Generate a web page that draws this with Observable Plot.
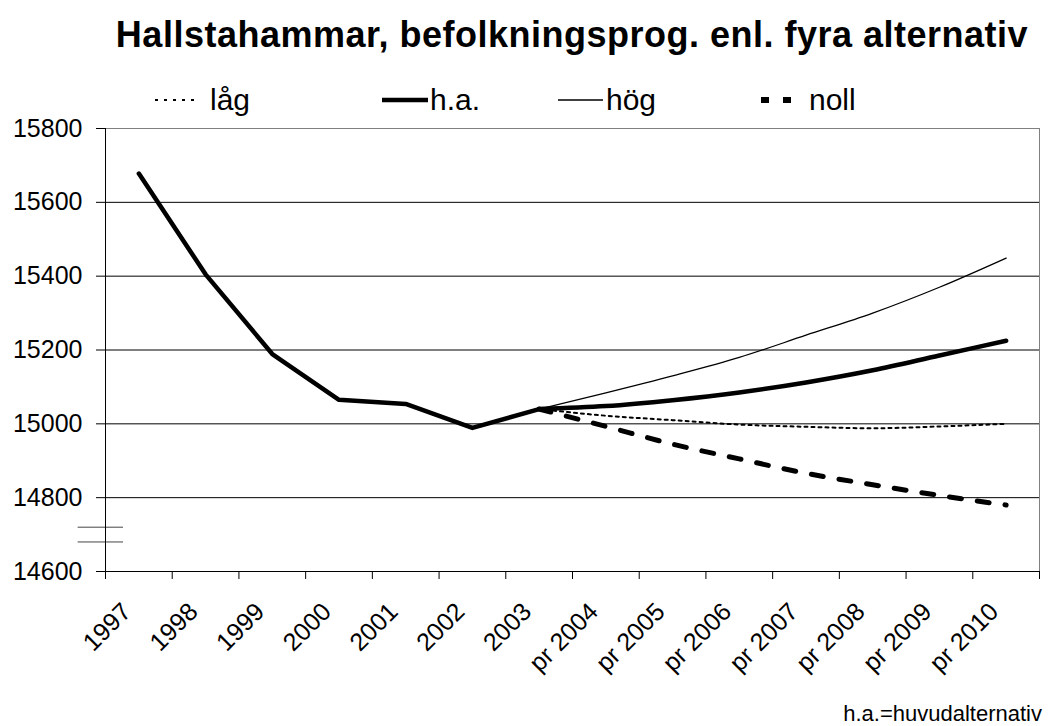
<!DOCTYPE html>
<html>
<head>
<meta charset="utf-8">
<script src="https://cdn.jsdelivr.net/npm/d3@7"></script>
<script src="https://cdn.jsdelivr.net/npm/@observablehq/plot@0.6"></script>
<style>
  body { margin: 0; background: #fff; font-family: "Liberation Sans", Arial, sans-serif; }
  #wrap { position: relative; width: 1048px; height: 726px; overflow: hidden; }
  #title { position: absolute; left: 0; width: 1144px; top: 17px; line-height: 1; text-align: center; font-weight: bold; font-size: 36px; letter-spacing: 0.5px; color: #000; white-space: nowrap; }
  .leg { position: absolute; top: 85px; height: 30px; line-height: 1; font-size: 30px; display: flex; align-items: center; white-space: nowrap; }
  #note { position: absolute; right: 6px; top: 703px; line-height: 1; font-size: 22px; white-space: nowrap; }
  #chart { position: absolute; left: 0; top: 0; }
</style>
</head>
<body>
<div id="wrap">
  <div id="chart"></div>
  <div id="title">Hallstahammar, befolkningsprog. enl. fyra alternativ</div>
  <div id="legend"></div>
  <div id="note">h.a.=huvudalternativ</div>
</div>
<script>
const categories = ["1997","1998","1999","2000","2001","2002","2003","pr 2004","pr 2005","pr 2006","pr 2007","pr 2008","pr 2009","pr 2010"];
const history = [15678, 15405, 15189, 15065, 15054, 14989, 15040];
const lag  = [15022, 15010, 14998, 14992, 14988, 14993, 15000];
const ha   = [15048, 15064, 15085, 15112, 15145, 15185, 15225];
const hog  = [15084, 15130, 15180, 15240, 15300, 15370, 15449];
const noll = [14993, 14945, 14905, 14866, 14835, 14806, 14780];
const yTicks = [14600, 14800, 15000, 15200, 15400, 15600, 15800];
const gridLines = [15600, 15400, 15200, 15000, 14800];
const breakMarks = [14720, 14680];

const seriesStyles = [
  {name: "låg",  proj: lag,  width: 2,   dash: "3,4",   legDash: "3,6",   legW: 42, gap: 13},
  {name: "h.a.", proj: ha,   width: 4.5, dash: null,    legDash: null,    legW: 46, gap: 2},
  {name: "hög",  proj: hog,  width: 1.3, dash: null,    legDash: null,    legW: 45, gap: 3},
  {name: "noll", proj: noll, width: 5,   dash: "12,16", legDash: "8,14",  legW: 46, gap: 6}
];

function rows(proj, full) {
  const vals = full ? history.concat(proj) : [history[history.length - 1]].concat(proj);
  const start = full ? 0 : history.length - 1;
  return vals.map((v, i) => ({x: start + i + 0.5, y: v}));
}

const marks = [
  Plot.frame({stroke: "#808080"}),
  Plot.ruleY(gridLines, {stroke: "#000", strokeWidth: 1}),
  Plot.ruleY(breakMarks, {x1: -0.41, x2: 0.27, stroke: "#444", strokeWidth: 1, clip: false}),
  Plot.axisY(yTicks, {tickSize: 9, tickPadding: 14, fontSize: 25, stroke: "#000", label: null, tickFormat: d => String(d)}),
  Plot.axisX(d3.range(15), {tickSize: 8, tickFormat: () => "", stroke: "#000", label: null}),
  Plot.axisX(d3.range(14).map(i => i + 0.5), {tickSize: 0, tickPadding: 20, dx: -12, dy: 16, tickRotate: -45, fontSize: 25, label: null, tickFormat: d => categories[Math.floor(d)]}),
  Plot.line(rows([], true), {x: "x", y: "y", stroke: "#000", strokeWidth: 4.5, strokeLinejoin: "round"})
];
for (const s of [seriesStyles[0], seriesStyles[2], seriesStyles[3], seriesStyles[1]]) {
  marks.push(Plot.line(rows(s.proj, false), {x: "x", y: "y", stroke: "#000", strokeWidth: s.width, strokeDasharray: s.dash, curve: "monotone-x"}));
}
marks.push(Plot.ruleX([0], {stroke: "#000"}));
marks.push(Plot.ruleY([14600], {stroke: "#000"}));

const chart = Plot.plot({
  width: 1048,
  height: 726,
  marginTop: 128,
  marginBottom: 155,
  marginLeft: 105,
  marginRight: 9,
  style: {fontFamily: "'Liberation Sans', Arial, sans-serif", fontSize: "25px", color: "#000", background: "#fff"},
  x: {domain: [0, 14], axis: null},
  y: {domain: [14600, 15800], axis: null},
  marks
});
document.getElementById("chart").appendChild(chart);

// legend
const legendPos = [155, 382, 558, 757];
const leg = document.getElementById("legend");
seriesStyles.forEach((s, i) => {
  const d = document.createElement("div");
  d.className = "leg";
  d.style.left = legendPos[i] + "px";
  const w = s.legW;
  const dashAttr = s.legDash ? `stroke-dasharray="${s.legDash}" stroke-dashoffset="${s.name === 'noll' ? -4 : 0}"` : "";
  d.innerHTML = `<svg width="${w}" height="20" style="margin-right:${s.gap}px"><line x1="0" x2="${w}" y1="10" y2="10" stroke="#000" stroke-width="${s.name === 'noll' ? 6 : s.width}" ${dashAttr}/></svg><span>${s.name}</span>`;
  leg.appendChild(d);
});
</script>
</body>
</html>
